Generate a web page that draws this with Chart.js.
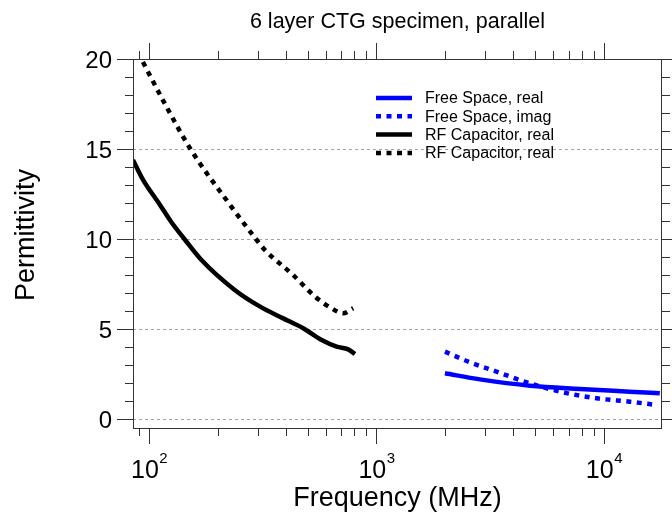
<!DOCTYPE html>
<html>
<head>
<meta charset="utf-8">
<script src="https://cdn.jsdelivr.net/npm/chart.js@4.4.1/dist/chart.umd.min.js"></script>
<style>
  body { margin: 0; background: #fff; }
  #wrap { width: 672px; height: 516px; }
</style>
</head>
<body>
<div id="wrap"><canvas id="grafico"></canvas></div>
<script>
const titulo = '6 layer CTG specimen, parallel';
const tituloX = 'Frequency (MHz)';
const tituloY = 'Permittivity';
const etiquetas = ['Free Space, real', 'Free Space, imag', 'RF Capacitor, real', 'RF Capacitor, real'];

// Free Space (GHz range)
const fsFreqReal = [2000, 2850, 4730, 7850, 13000, 17600];
const fsReal = [2.54, 2.2, 1.85, 1.67, 1.52, 1.43];
const fsFreqImag = [2000, 2580, 3370, 4730, 6620, 9290, 13000, 17050];
const fsImag = [3.74, 3.15, 2.63, 1.98, 1.48, 1.15, 0.96, 0.78];

// RF Capacitor (MHz range)
const rfFreqReal = [85, 94, 111, 125, 143, 170, 238, 308, 389, 476, 574, 668, 751, 804];
const rfReal = [14.39, 13.3, 11.95, 10.96, 10.0, 8.83, 7.17, 6.24, 5.59, 5.04, 4.39, 4.02, 3.87, 3.61];
const rfFreqImag = [94, 116, 152, 222, 295, 323, 430, 537, 635, 713, 790];
const rfImag = [19.83, 17.63, 15.0, 12.06, 10.0, 9.39, 8.0, 6.8, 6.15, 5.87, 6.15];

// ejes
const xMin = 85, xMax = 18000, yMin = -0.5, yMax = 20;
const xMayores = [100, 1000, 10000];
const xExponentes = ['2', '3', '4'];
const yMayores = [0, 5, 10, 15, 20];

const puntos = (xs, ys) => xs.map((v, i) => ({x: v, y: ys[i]}));

const fuente = '"Liberation Sans", Arial, Helvetica, sans-serif';

const ejes = {
  id: 'ejes',
  beforeDatasetsDraw(chart) {
    const {ctx, chartArea: a, scales: {x, y}} = chart;
    ctx.save();
    ctx.strokeStyle = '#8c8c8c';
    ctx.lineWidth = 0.8;
    ctx.setLineDash([3, 3]);
    yMayores.forEach(v => {
      const py = Math.round(y.getPixelForValue(v)) + 0.5;
      ctx.beginPath(); ctx.moveTo(a.left, py); ctx.lineTo(a.right, py); ctx.stroke();
    });
    ctx.restore();
  },
  afterDraw(chart) {
    const {ctx, chartArea: a, scales: {x, y}} = chart;
    ctx.save();
    ctx.strokeStyle = '#333';
    ctx.lineWidth = 1;
    ctx.strokeRect(a.left + 0.5, a.top + 0.5, a.right - a.left - 1, a.bottom - a.top);

    // ticks x
    const tickX = (v, largo) => {
      const px = Math.round(x.getPixelForValue(v)) + 0.5;
      ctx.beginPath();
      ctx.moveTo(px, a.bottom); ctx.lineTo(px, a.bottom + largo);
      ctx.moveTo(px, a.top); ctx.lineTo(px, a.top - largo);
      ctx.stroke();
    };
    [10, 100, 1000, 10000].forEach(dec => {
      for (let m = 2; m <= 9; m++) {
        const v = m * dec;
        if (v > xMin && v < xMax) tickX(v, 8);
      }
    });
    xMayores.forEach(v => tickX(v, 16));

    // ticks y
    const tickY = (v, largo) => {
      const py = Math.round(y.getPixelForValue(v)) + 0.5;
      ctx.beginPath();
      ctx.moveTo(a.left, py); ctx.lineTo(a.left - largo, py);
      ctx.moveTo(a.right, py); ctx.lineTo(a.right + largo, py);
      ctx.stroke();
    };
    for (let v = 1; v < 20; v++) if (v % 5 !== 0) tickY(v, 8);
    yMayores.forEach(v => tickY(v, 16));

    // etiquetas y
    ctx.fillStyle = '#000';
    ctx.font = '24px ' + fuente;
    ctx.textAlign = 'right';
    ctx.textBaseline = 'alphabetic';
    yMayores.forEach(v => ctx.fillText(String(v), 112, y.getPixelForValue(v) + 8.5));

    // etiquetas x con exponente
    ctx.textAlign = 'left';
    xMayores.forEach((v, i) => {
      ctx.font = '25px ' + fuente;
      const w1 = ctx.measureText('10').width;
      ctx.font = '15px ' + fuente;
      const w2 = ctx.measureText(xExponentes[i]).width;
      const x0 = x.getPixelForValue(v) - (w1 + w2) / 2;
      ctx.font = '25px ' + fuente;
      ctx.fillText('10', x0, 478);
      ctx.font = '15px ' + fuente;
      ctx.fillText(xExponentes[i], x0 + w1 + 0.5, 463);
    });

    // titulos
    ctx.textAlign = 'center';
    ctx.font = '27px ' + fuente;
    ctx.fillText(tituloX, (a.left + a.right) / 2, 506);
    ctx.font = '21.5px ' + fuente;
    ctx.fillText(titulo, (a.left + a.right) / 2, 28);
    ctx.save();
    ctx.translate(34, 235);
    ctx.rotate(-Math.PI / 2);
    ctx.font = '27px ' + fuente;
    ctx.fillText(tituloY, 0, 0);
    ctx.restore();

    // leyenda
    ctx.textAlign = 'left';
    ctx.textBaseline = 'middle';
    ctx.font = '16px ' + fuente;
    chart.data.datasets.forEach((ds, i) => {
      const ly = 98 + i * 18.3;
      ctx.strokeStyle = ds.borderColor;
      ctx.lineWidth = ds.borderWidth;
      ctx.setLineDash(ds.borderDash || []);
      ctx.beginPath(); ctx.moveTo(376, ly); ctx.lineTo(412, ly); ctx.stroke();
      ctx.setLineDash([]);
      ctx.fillStyle = '#000';
      ctx.fillText(ds.label, 425, ly + 1);
    });
    ctx.restore();
  }
};

const ctx = document.getElementById('grafico').getContext('2d');
const myChart = new Chart(ctx, {
  type: 'line',
  data: {
    datasets: [
      {
        label: etiquetas[0],
        data: puntos(fsFreqReal, fsReal),
        borderColor: '#0000ff',
        borderWidth: 4.5,
      },
      {
        label: etiquetas[1],
        data: puntos(fsFreqImag, fsImag),
        borderColor: '#0000ff',
        borderWidth: 4.5,
        borderDash: [5, 5.5],
      },
      {
        label: etiquetas[2],
        data: puntos(rfFreqReal, rfReal),
        borderColor: '#000',
        borderWidth: 4.5,
      },
      {
        label: etiquetas[3],
        data: puntos(rfFreqImag, rfImag),
        borderColor: '#000',
        borderWidth: 4.5,
        borderDash: [5, 5.5],
      },
    ],
  },
  options: {
    responsive: true,
    maintainAspectRatio: false,
    animation: false,
    layout: { padding: { left: 133, right: 10, top: 59, bottom: 88 } },
    elements: {
      point: { radius: 0 },
      line: { cubicInterpolationMode: 'monotone', borderCapStyle: 'butt' },
    },
    scales: {
      x: { type: 'logarithmic', min: xMin, max: xMax, display: false },
      y: { type: 'linear', min: yMin, max: yMax, display: false },
    },
    plugins: {
      legend: { display: false },
      tooltip: { enabled: false },
    },
  },
  plugins: [ejes],
});
</script>
</body>
</html>
